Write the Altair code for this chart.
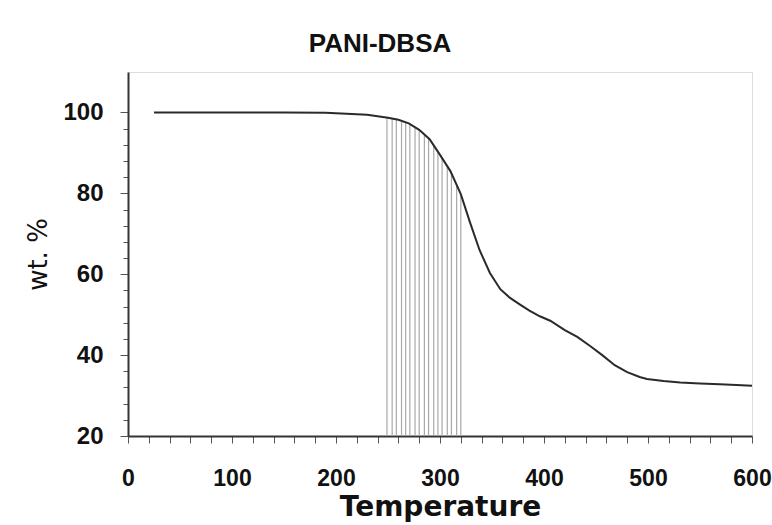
import altair as alt
import pandas as pd

# TGA curve of PANI-DBSA
temp = [25, 50, 100, 150, 190, 210, 230, 250, 260, 270, 280, 290, 300, 310,
        320, 329, 338, 348, 358, 367, 377, 386, 396, 406, 420, 432, 444, 456,
        468, 480, 492, 499, 515, 531, 550, 569, 585, 600]
wt = [100, 100, 100, 100, 99.9, 99.7, 99.4, 98.7, 98.2, 97.3, 95.7, 93.4, 89.5,
      85.5, 79.8, 72.7, 66.0, 60.3, 56.3, 54.2, 52.5, 51.0, 49.6, 48.5, 46.2,
      44.5, 42.3, 40.0, 37.5, 35.8, 34.6, 34.1, 33.6, 33.2, 33.0, 32.8, 32.6,
      32.4]

# hatched region under the curve (vertical lines)
hatch_x = [249, 254, 258, 263, 267, 271, 276, 280, 285, 289, 294, 298, 302,
           307, 311, 316, 320]
hatch_top = [98.7, 98.5, 98.3, 98.0, 97.6, 97.2, 96.5, 95.7, 94.6, 93.5, 92.0,
             90.2, 88.8, 86.8, 85.0, 82.2, 79.8]

x_ticks = list(range(0, 601, 20))
y_ticks = list(range(20, 101, 4))

curve = pd.DataFrame({"t": temp, "w": wt})
hatch = pd.DataFrame({"t": hatch_x, "top": hatch_top})

x_scale = alt.Scale(domain=[0, 600], nice=False, zero=False)
y_scale = alt.Scale(domain=[20, 110], nice=False, zero=False)

x_axis = alt.Axis(
    values=x_ticks,
    labelExpr="datum.value % 100 === 0 ? datum.label : ''",
    tickSize=7, tickColor="#555", tickWidth=1,
    labelFont="Liberation Sans", labelFontWeight="bold", labelFontSize=23,
    labelColor="#111", labelPadding=24, labelOverlap=False, labelBound=False,
    labelFlush=False,
    titleFont="DejaVu Sans", titleFontWeight="bold", titleFontSize=28,
    titleColor="#111", titlePadding=3,
    domainColor="#333", domainWidth=2, grid=False,
)
y_axis = alt.Axis(
    values=y_ticks,
    labelExpr="datum.value % 20 === 0 ? datum.label : ''",
    tickSize={"condition": {"test": "datum.value % 20 === 0", "value": 8}, "value": 5},
    tickColor="#555", tickWidth=1,
    labelFont="Liberation Sans", labelFontWeight="bold", labelFontSize=24,
    labelColor="#111", labelPadding=17, labelOverlap=False, labelBound=False,
    labelFlush=False,
    titleFont="DejaVu Sans", titleFontWeight="normal", titleFontSize=26,
    titleColor="#111", titlePadding=11,
    domainColor="#333", domainWidth=2, grid=False,
)

hatch_layer = alt.Chart(hatch).mark_rule(color="#a8a8a8", strokeWidth=1.2).encode(
    x=alt.X("t:Q", scale=x_scale, axis=x_axis, title="Temperature"),
    y=alt.Y("top:Q", scale=y_scale, axis=y_axis, title="wt. %"),
    y2=alt.datum(20),
)

line_layer = alt.Chart(curve).mark_line(color="#2a2a2a", strokeWidth=2).encode(
    x=alt.X("t:Q", scale=x_scale, axis=x_axis, title="Temperature"),
    y=alt.Y("w:Q", scale=y_scale, axis=y_axis, title="wt. %"),
)

chart = alt.layer(hatch_layer, line_layer).properties(
    width=624,
    height=364,
    autosize=alt.AutoSizeParams(type="none"),
    padding={"left": 128, "top": 72, "right": 20, "bottom": 89},
    title=alt.TitleParams(
        "PANI-DBSA", font="Liberation Sans", fontWeight="bold", fontSize=26,
        color="#111", anchor="middle", dx=-60, offset=-6, baseline="alphabetic",
    ),
).configure_view(
    stroke="#666", strokeWidth=2
).configure(background="white")

chart.save("out.html", embed_options={"renderer": "svg", "actions": False})
